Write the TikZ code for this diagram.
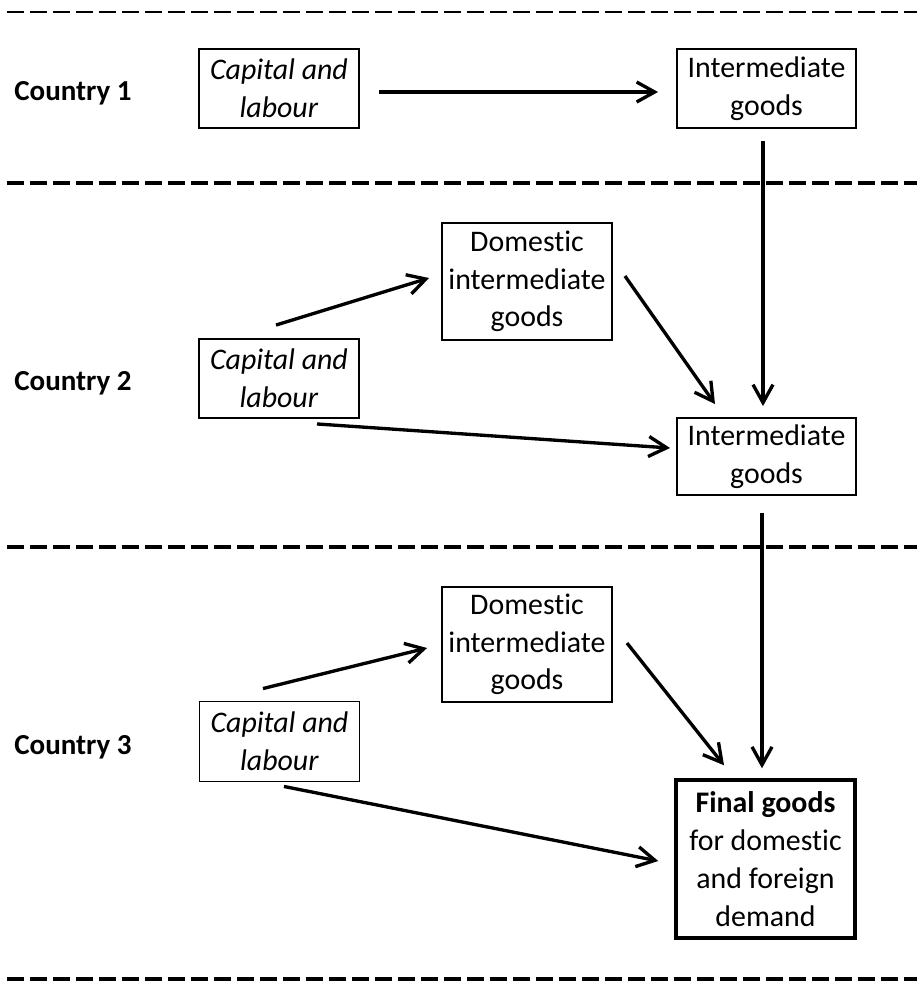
\documentclass[tikz,border=0pt]{standalone}
\usepackage{fontspec}
\setmainfont[Ligatures={NoCommon,NoContextual}]{Carlito}
\usetikzlibrary{arrows.meta, calc}

\begin{document}
\begin{tikzpicture}[x=0.02cm, y=-0.02cm]
      \tikzset{box/.style = {shape=rectangle,draw,line width=1.1pt,inner sep=0pt,align=center,font=\fontsize{17}{21.5}\selectfont,execute at begin node={\rule{0pt}{16.5pt}}}}
      \tikzset{edge/.style = {-{Straight Barb[length=0.36cm,width=0.4cm]},line width=1.9pt}}
      \tikzset{divider/.style = {line width=2.5pt,dash pattern=on 0.34cm off 0.12cm}}
      \tikzset{country/.style = {anchor=west,inner sep=0pt,font=\fontsize{16.5}{21}\selectfont\bfseries}}
      \useasboundingbox (0,0) rectangle (917,981);

      % country borders
      \draw[divider,line width=1.1pt] (7,12) -- (917,12);
      \draw[divider] (7,183) -- (917,183);
      \draw[divider] (7,547) -- (917,547);
      \draw[divider] (7,979) -- (917,979);

      \node[country] (c1) at (14,93) {Country 1};
      \node[country] (c2) at (14,383) {Country 2};
      \node[country] (c3) at (14,747) {Country 3};

      \node[box,minimum width=3.2cm,minimum height=1.58cm] (cl1) at (279,88.5) {\textit{Capital and}\\\textit{labour}};
      \node[box,minimum width=3.58cm,minimum height=1.58cm] (ig1) at (766.5,88.5) {Intermediate\\goods};
      \node[box,minimum width=3.4cm,minimum height=2.34cm] (dg2) at (527,281.5) {Domestic\\intermediate\\goods};
      \node[box,minimum width=3.2cm,minimum height=1.58cm] (cl2) at (279,378.5) {\textit{Capital and}\\\textit{labour}};
      \node[box,minimum width=3.58cm,minimum height=1.54cm] (ig2) at (766.5,456.5) {Intermediate\\goods};
      \node[box,minimum width=3.4cm,minimum height=2.3cm] (dg3) at (527,644.5) {Domestic\\intermediate\\goods};
      \node[box,minimum width=3.2cm,minimum height=1.6cm] (cl3) at (279.5,741.5) {\textit{Capital and}\\\textit{labour}};
      \node[box,line width=2pt,minimum width=3.58cm,minimum height=3.16cm] (fg) at (765.5,859) {\textbf{Final goods}\\for domestic\\and foreign\\demand};

      \draw[edge] ($(cl1.east)+(19,3.5)$) -- ($(ig1.west)+(-18,3.5)$);
      \draw[edge] ($(ig1.south)+(-3.5,12)$) -- ($(ig2.north)+(-3.5,-11)$);
      \draw[edge] ($(cl2.north)+(-3,-13)$) -- ($(dg2.west)+(-12,-3.5)$);
      \draw[edge] ($(dg2.east)+(12,-5.5)$) -- ($(ig2.north)+(-51.5,-13)$);
      \draw[edge] ($(cl2.south)+(38,5)$) -- ($(ig2.west)+(-6,-8.5)$);
      \draw[edge] ($(ig2.south)+(-4.5,17)$) -- ($(fg.north)+(-3.5,-10)$);
      \draw[edge] ($(cl3.north)+(-16.5,-12)$) -- ($(dg3.west)+(-14,3.5)$);
      \draw[edge] ($(dg3.east)+(14,-1.5)$) -- ($(fg.north)+(-41.5,-13)$);
      \draw[edge] ($(cl3.south)+(4.5,4)$) -- ($(fg.west)+(-16,2)$);
    \end{tikzpicture}
\end{document}
